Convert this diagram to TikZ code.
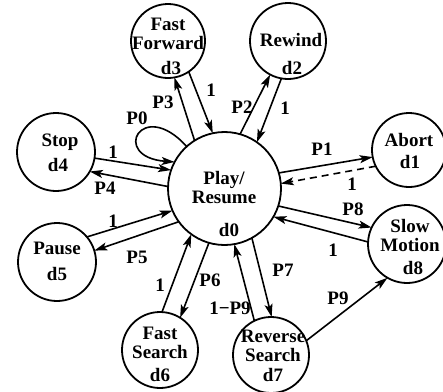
\documentclass[tikz,border=0pt]{standalone}
\usepackage{fontspec}
\setmainfont{Liberation Serif}
\usetikzlibrary{arrows.meta}
\begin{document}
\begin{tikzpicture}[x=1pt,y=-1pt,
  state/.style={circle, draw, line width=1.8pt, minimum size=76pt, inner sep=0pt, outer sep=0pt},
  txt/.style={font=\fontsize{19}{19}\selectfont\bfseries, inner sep=0pt, align=center},
  arr/.style={-{Stealth[length=13pt,width=8pt,inset=3pt]}, line width=1.6pt},
  dsh/.style={dash pattern=on 7pt off 5pt}]
\useasboundingbox (0,0) rectangle (443,391);
\fill[white] (0,0) rectangle (443,391);
% states
\node[state, minimum size=74pt] (d3) at (168,41) {};
\node[state] (d2) at (288,41) {};
\node[state, minimum size=78pt] (d4) at (56,152) {};
\node[state, minimum size=74pt] (d1) at (409,150) {};
\node[state, minimum size=113pt] (d0) at (224.5,188.5) {};
\node[state, minimum size=78pt] (d5) at (57,262) {};
\node[state, minimum size=78pt] (d8) at (407,244) {};
\node[state] (d6) at (160,350) {};
\node[state] (d7) at (271,355) {};
% texts
\node[txt] (t3) at (168,34) {Fast\\Forward};
\node[txt] (i3) at (171,68) {d3};
\node[txt] (t2) at (291,40) {Rewind};
\node[txt] (i2) at (292,68) {d2};
\node[txt] (t4) at (60,142) {Stop};
\node[txt] (i4) at (58,165) {d4};
\node[txt] (t1) at (409,140) {Abort};
\node[txt] (i1) at (410,162) {d1};
\node[txt] (t0) at (224,187.5) {Play/\\Resume};
\node[txt] (i0) at (229,230) {d0};
\node[txt] (t5) at (57,248) {Pause};
\node[txt] (i5) at (57,274) {d5};
\node[txt] (t8) at (410,235) {Slow\\Motion};
\node[txt] (i8) at (413,268) {d8};
\node[txt] (t6) at (160,342.5) {Fast\\Search};
\node[txt] (i6) at (160,375) {d6};
\node[txt] (t7) at (273,345.5) {Reverse\\Search};
\node[txt] (i7) at (273,375) {d7};
% connectors
\draw[arr] (d0.122) -- (d3.280);
\draw[arr] (d3.304) -- (d0.102);
\draw[arr] (d0.74) -- (d2.242);
\draw[arr] (d2.260) -- (d0.55);
\draw[arr] (d4.351) -- (d0.161);
\draw[arr] (d0.178) -- (d4.330);
\draw[arr] (d0.16) -- (d1.191);
\draw[arr,dsh] (d1.206) -- (d0.5);
\draw[arr] (d0.342) -- (d8.155);
\draw[arr] (d8.177) -- (d0.330);
\draw[arr] (d5.40) -- (d0.203);
\draw[arr] (d0.216) -- (d5.17);
\draw[arr] (d6.87) -- (d0.234);
\draw[arr] (d0.254) -- (d6.58);
\draw[arr] (d7.116) -- (d0.280);
\draw[arr] (d0.299) -- (d7.89);
\draw[arr] (d7.22) -- (d8.240);
\draw[arr] (d0.132) .. controls +(-45,-50) and +(-65,-5) .. (d0.152);
% connector labels
\node[txt] (l1) at (163,102) {P3};
\node[txt] (l2) at (211,90) {1};
\node[txt] (l3) at (242,107) {P2};
\node[txt] (l4) at (285,108) {1};
\node[txt] (l5) at (137,118) {P0};
\node[txt] (l6) at (113,152) {1};
\node[txt] (l7) at (105,188) {P4};
\node[txt] (l8) at (322,149) {P1};
\node[txt] (l9) at (352,184) {1};
\node[txt] (l10) at (353,209) {P8};
\node[txt] (l11) at (333,250) {1};
\node[txt] (l12) at (113,221) {1};
\node[txt] (l13) at (137,257) {P5};
\node[txt] (l14) at (160,285) {1};
\node[txt] (l15) at (210,280) {P6};
\node[txt] (l16) at (230,308) {1−P9};
\node[txt] (l17) at (283,270) {P7};
\node[txt] (l18) at (338,298) {P9};
\end{tikzpicture}
\end{document}
